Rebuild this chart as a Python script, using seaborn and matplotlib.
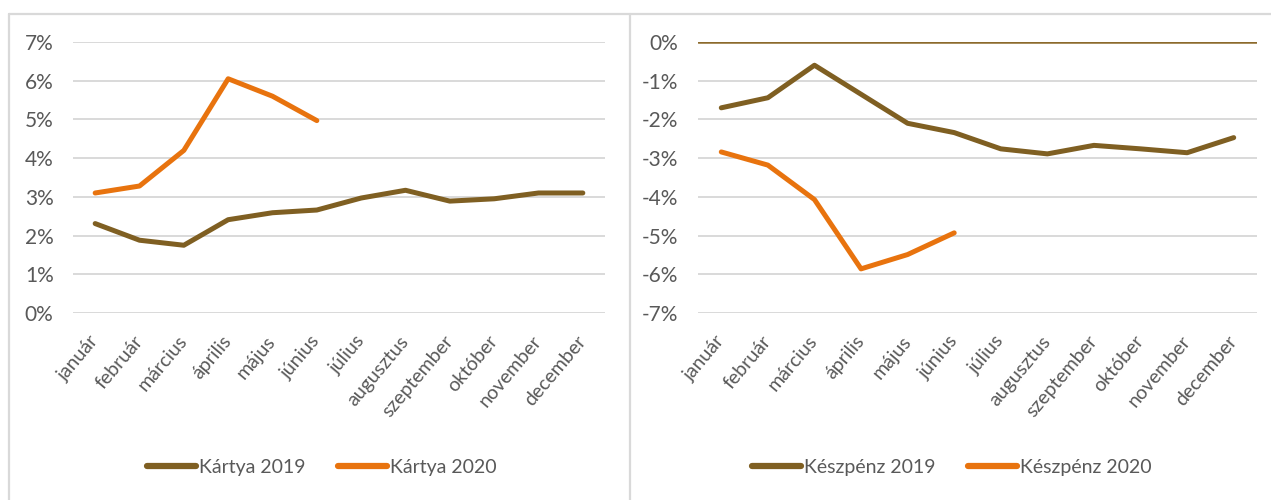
import numpy as np
import pandas as pd
import matplotlib
matplotlib.use('Agg')
import matplotlib.pyplot as plt
import seaborn as sns
from matplotlib.lines import Line2D

# adatok (százalék)
honapok = ['január', 'február', 'március', 'április', 'május', 'június',
           'július', 'augusztus', 'szeptember', 'október', 'november', 'december']

kartya_2019 = [2.31, 1.88, 1.75, 2.41, 2.59, 2.66, 2.97, 3.17, 2.89, 2.95, 3.10, 3.10]
kartya_2020 = [3.10, 3.28, 4.20, 6.05, 5.60, 4.97]

keszpenz_2019 = [-1.70, -1.44, -0.60, -1.35, -2.10, -2.34, -2.76, -2.89, -2.67, -2.76, -2.86, -2.47]
keszpenz_2020 = [-2.84, -3.18, -4.07, -5.86, -5.49, -4.93]

barna = '#7f5f22'
narancs = '#e8730e'
szurke = '#595959'
racs = '#d9d9d9'

sns.set_theme(style='white')
plt.rcParams['font.family'] = ['Lato', 'DejaVu Sans']


def long_df(nev19, ert19, nev20, ert20):
    d1 = pd.DataFrame({'honap': honapok, 'ertek': ert19, 'sor': nev19})
    d2 = pd.DataFrame({'honap': honapok[:len(ert20)], 'ertek': ert20, 'sor': nev20})
    return pd.concat([d1, d2], ignore_index=True)


fig = plt.figure(figsize=(12.71, 5), dpi=100)
W, H = 1271, 500
ax1 = fig.add_axes([73 / W, 1 - 313 / H, 532 / W, 271 / H])
ax2 = fig.add_axes([698 / W, 1 - 313 / H, 559 / W, 271 / H])


def rajz(ax, df, ylim, legend_x):
    sns.lineplot(data=df, x='honap', y='ertek', hue='sor', palette=[barna, narancs],
                 linewidth=3.6, sort=False, ax=ax)
    ax.set_xlim(-0.5, 11.5)
    ax.set_ylim(*ylim)
    ax.set_yticks(np.arange(ylim[0], ylim[1] + 1, 1))
    ax.yaxis.set_major_formatter(plt.FuncFormatter(lambda v, p: f'{v:.0f}%'))
    ax.set_xticks(range(12))
    ax.set_xticklabels(honapok, rotation=50, ha='right', va='center',
                       rotation_mode='anchor')
    ax.tick_params(axis='both', length=0, labelsize=14, colors=szurke)
    ax.tick_params(axis='y', pad=14, labelsize=15)
    ax.tick_params(axis='x', pad=18)
    ax.set_xlabel('')
    ax.set_ylabel('')
    ax.yaxis.grid(True, color=racs, linewidth=1.4)
    ax.xaxis.grid(False)
    ax.set_axisbelow(True)
    for s in ax.spines.values():
        s.set_visible(False)
    h, l = ax.get_legend_handles_labels()
    for hh in h:
        hh.set_linewidth(4.5)
    ax.legend(h, l, loc='center', bbox_to_anchor=(legend_x, 1 - 467 / H),
              bbox_transform=fig.transFigure, ncol=2, frameon=False,
              fontsize=14, labelcolor=szurke, handlelength=2.5,
              handletextpad=0.15, columnspacing=1.7)


rajz(ax1, long_df('Kártya 2019', kartya_2019, 'Kártya 2020', kartya_2020), (0, 7), 322 / W)
rajz(ax2, long_df('Készpénz 2019', keszpenz_2019, 'Készpénz 2020', keszpenz_2020), (-7, 0), 952 / W)
ax2.axhline(0, color='#8c6a2c', linewidth=1.8, zorder=1.5)

# keret
for (x0, y0, x1, y1) in [(9, 13.5, W, 13.5), (9, 13.5, 9, H), (630, 13.5, 630, H)]:
    fig.add_artist(Line2D([x0 / W, x1 / W], [1 - y0 / H, 1 - y1 / H],
                          transform=fig.transFigure, color=racs, linewidth=1.6))

fig.savefig('out.png', dpi=100)
